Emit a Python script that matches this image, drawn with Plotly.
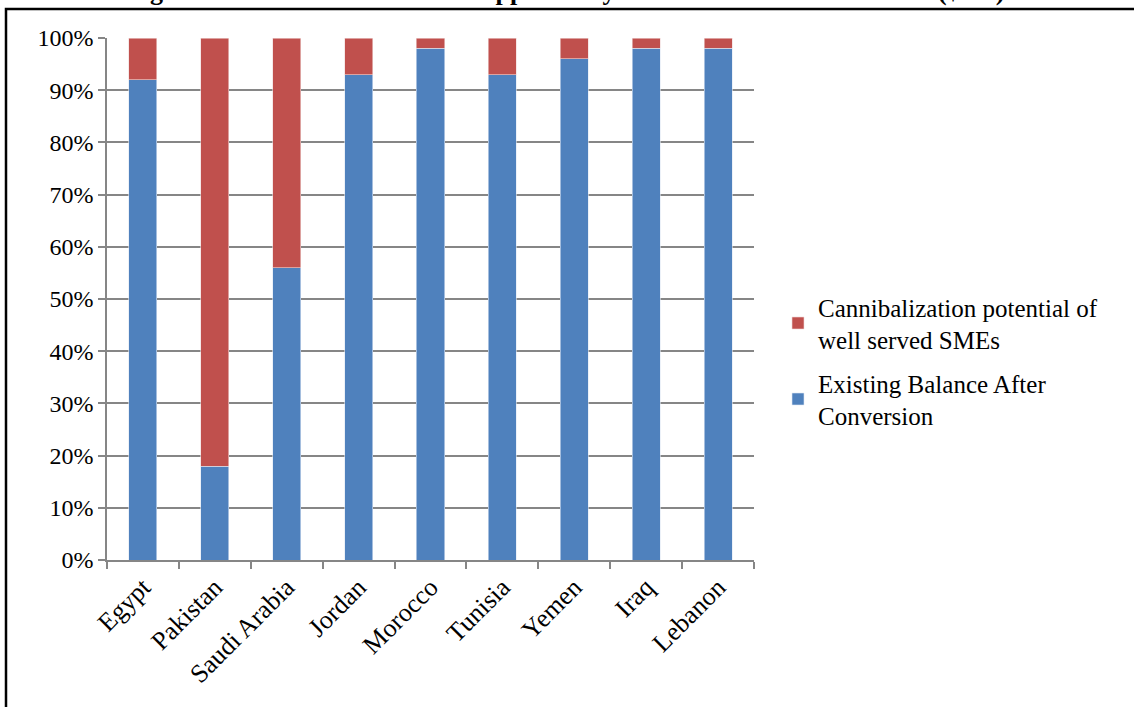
import plotly.graph_objects as go

countries = ["Egypt", "Pakistan", "Saudi Arabia", "Jordan", "Morocco", "Tunisia", "Yemen", "Iraq", "Lebanon"]
existing = [0.92, 0.18, 0.56, 0.93, 0.98, 0.93, 0.96, 0.98, 0.98]
cannibal = [0.08, 0.82, 0.44, 0.07, 0.02, 0.07, 0.04, 0.02, 0.02]

title_text = "Figure 1.9: Islamic Conversion Opportunity Across MENA and Pakistan ($mn)"
name_existing = "Existing Balance After<br>Conversion"
name_cannibal = "Cannibalization potential of<br>well served SMEs"

font_serif = "Liberation Serif, Times New Roman, serif"
grid_col = "#868686"

fig = go.Figure()
fig.add_trace(go.Bar(x=countries, y=existing, name=name_existing, legendgroup="b",
                     legendrank=2,
                     marker=dict(color="#4F81BD", line=dict(color="#dfe8f3", width=0.6))))
fig.add_trace(go.Bar(x=countries, y=cannibal, name=name_cannibal, legendgroup="a",
                     legendrank=1,
                     marker=dict(color="#C0504D", line=dict(color="#f0d8d8", width=0.6))))

fig.update_layout(
    width=1134, height=707,
    barmode="stack", bargap=0.61,
    paper_bgcolor="white", plot_bgcolor="white",
    margin=dict(l=107, r=380, t=38, b=147, autoexpand=False),
    font=dict(family=font_serif, size=24, color="black"),
    legend=dict(x=(778 - 107) / 647, y=(560 - 361) / 522, xanchor="left", yanchor="middle",
                traceorder="grouped", font=dict(size=25), tracegroupgap=8,
                itemwidth=30),
    showlegend=True,
)
fig.update_yaxes(range=[0, 1], dtick=0.1, tickformat=".0%", showgrid=True,
                 gridcolor=grid_col, gridwidth=1.5, showline=True, linecolor=grid_col,
                 linewidth=1.5, ticks="outside", ticklen=7, tickcolor=grid_col,
                 tickwidth=1.5, zeroline=False, tickfont=dict(size=24))
fig.update_xaxes(showline=True, linecolor=grid_col, linewidth=1.5, ticks="outside",
                 ticklen=7, tickcolor=grid_col, tickwidth=1.5, tickson="boundaries",
                 tickangle=-45, tickfont=dict(size=26))

fig.add_annotation(text="<b>" + title_text + "</b>", xref="paper", yref="paper",
                   x=(565 - 107) / 647, y=(560 - 8) / 522, xanchor="center", yanchor="bottom",
                   showarrow=False, font=dict(size=26, family=font_serif))
fig.add_shape(type="rect", xref="paper", yref="paper",
              x0=(6 - 107) / 647, x1=(1145 - 107) / 647,
              y0=(560 - 720) / 522, y1=(560 - 9) / 522,
              line=dict(color="black", width=2.5), fillcolor="rgba(0,0,0,0)", layer="below")

fig.write_html("out.html", config={"displayModeBar": False},
               post_script="document.body.style.margin='0px';")
